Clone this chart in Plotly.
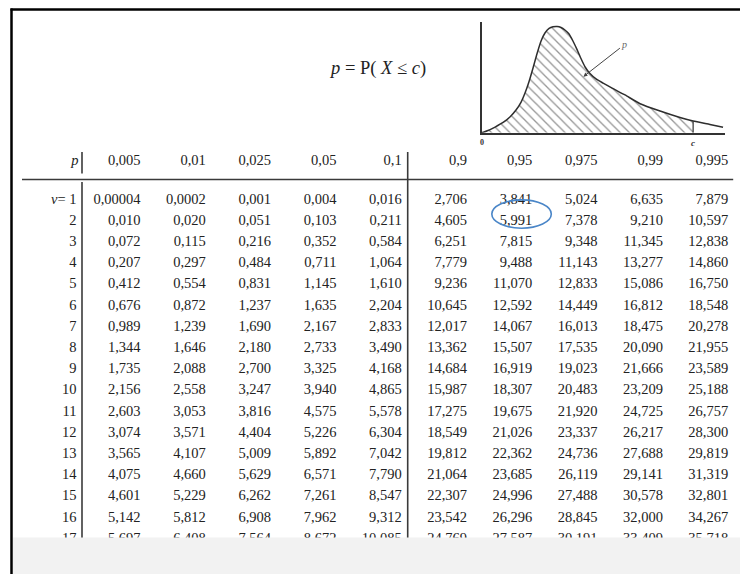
import plotly.graph_objects as go

# Chi-square quantiles c such that p = P(X <= c), for v = 1..17 degrees of freedom
p_levels = ["0,005", "0,01", "0,025", "0,05", "0,1", "0,9", "0,95", "0,975", "0,99", "0,995"]
dof = list(range(1, 18))

q_0005 = [0.00004, 0.010, 0.072, 0.207, 0.412, 0.676, 0.989, 1.344, 1.735, 2.156, 2.603, 3.074, 3.565, 4.075, 4.601, 5.142, 5.697]
q_001 = [0.0002, 0.020, 0.115, 0.297, 0.554, 0.872, 1.239, 1.646, 2.088, 2.558, 3.053, 3.571, 4.107, 4.660, 5.229, 5.812, 6.408]
q_0025 = [0.001, 0.051, 0.216, 0.484, 0.831, 1.237, 1.690, 2.180, 2.700, 3.247, 3.816, 4.404, 5.009, 5.629, 6.262, 6.908, 7.564]
q_005 = [0.004, 0.103, 0.352, 0.711, 1.145, 1.635, 2.167, 2.733, 3.325, 3.940, 4.575, 5.226, 5.892, 6.571, 7.261, 7.962, 8.672]
q_01 = [0.016, 0.211, 0.584, 1.064, 1.610, 2.204, 2.833, 3.490, 4.168, 4.865, 5.578, 6.304, 7.042, 7.790, 8.547, 9.312, 10.085]
q_09 = [2.706, 4.605, 6.251, 7.779, 9.236, 10.645, 12.017, 13.362, 14.684, 15.987, 17.275, 18.549, 19.812, 21.064, 22.307, 23.542, 24.769]
q_095 = [3.841, 5.991, 7.815, 9.488, 11.070, 12.592, 14.067, 15.507, 16.919, 18.307, 19.675, 21.026, 22.362, 23.685, 24.996, 26.296, 27.587]
q_0975 = [5.024, 7.378, 9.348, 11.143, 12.833, 14.449, 16.013, 17.535, 19.023, 20.483, 21.920, 23.337, 24.736, 26.119, 27.488, 28.845, 30.191]
q_099 = [6.635, 9.210, 11.345, 13.277, 15.086, 16.812, 18.475, 20.090, 21.666, 23.209, 24.725, 26.217, 27.688, 29.141, 30.578, 32.000, 33.409]
q_0995 = [7.879, 10.597, 12.838, 14.860, 16.750, 18.548, 20.278, 21.955, 23.589, 25.188, 26.757, 28.300, 29.819, 31.319, 32.801, 34.267, 35.718]

columns = [q_0005, q_001, q_0025, q_005, q_01, q_09, q_095, q_0975, q_099, q_0995]

# Sketch of the density curve (inset, arbitrary units) and the cut point c
curve_x = [0, 0.26, 0.55, 0.88, 1.16, 1.41, 1.62, 1.78, 1.94, 2.11, 2.27, 2.44, 2.60, 2.77,
           2.93, 3.10, 3.26, 3.42, 3.59, 3.75, 3.92, 4.08, 4.25, 4.45, 4.70, 4.99, 5.36,
           5.89, 6.51, 7.33, 8.15, 8.69, 9.38, 9.92]
curve_y = [0, 0.020, 0.051, 0.092, 0.141, 0.204, 0.276, 0.357, 0.457, 0.583, 0.709, 0.826,
           0.898, 0.939, 0.954, 0.957, 0.948, 0.925, 0.889, 0.826, 0.748, 0.668, 0.592,
           0.533, 0.484, 0.447, 0.402, 0.340, 0.261, 0.195, 0.137, 0.105, 0.074, 0.049]
c_index = 31

# Page geometry (pixels)
W, H = 740, 574
col_x0, col_step = 140.5, 65.3
row_y0, row_step = 200.0, 21.2
header_y = 161.7
label_x = 76.5
rule_y = 179.5
band_top = 537.5
inset_x0, inset_x1 = 481.7, 725.0
inset_top, inset_bottom = 21.7, 132.7
inset_xmax = 10.0

FONT = "Liberation Serif"
INK = "#222222"
RULE = "#3a3a3a"


def fmt(v):
    for d in range(3, 7):
        s = f"{v:.{d}f}"
        if abs(float(s) - v) < 1e-12:
            return s.replace(".", ",")
    return f"{v}".replace(".", ",")


def inset_px(x):
    return inset_x0 + x * (inset_x1 - inset_x0) / inset_xmax


col_right = [col_x0 + j * col_step for j in range(len(columns))]
row_y = [row_y0 + (n - 1) * row_step for n in dof]

fig = go.Figure()
text_font = dict(family=FONT, size=14.5, color=INK)

# table body
for j, col in enumerate(columns):
    fig.add_trace(go.Scatter(
        x=[col_right[j]] * len(col), y=row_y, text=[fmt(v) for v in col],
        mode="text", textposition="middle left", marker=dict(size=0),
        textfont=text_font, hoverinfo="skip", xaxis="x", yaxis="y"))

# row labels
row_labels = ["<i>ν</i>= 1"] + [str(n) for n in dof[1:]]
fig.add_trace(go.Scatter(
    x=[label_x] * len(dof), y=row_y, text=row_labels, mode="text",
    textposition="middle left", marker=dict(size=0), textfont=text_font,
    hoverinfo="skip"))

# header row
fig.add_trace(go.Scatter(
    x=[label_x + 2] + col_right, y=[header_y] * (len(p_levels) + 1),
    text=["<i>p</i>"] + p_levels, mode="text", textposition="middle left",
    marker=dict(size=0), textfont=text_font, hoverinfo="skip"))

# density sketch in the inset axes
fig.add_trace(go.Scatter(
    x=curve_x[:c_index + 1], y=curve_y[:c_index + 1], mode="lines",
    line=dict(width=0, shape="spline", smoothing=0.5), fill="tozeroy",
    fillcolor="white",
    fillpattern=dict(shape="\\", size=6.5, solidity=0.2, fgcolor="#2e2e2e", bgcolor="white"),
    xaxis="x2", yaxis="y2", hoverinfo="skip"))
fig.add_trace(go.Scatter(
    x=curve_x, y=curve_y, mode="lines",
    line=dict(color="#2e2e2e", width=1.5, shape="spline", smoothing=0.5),
    xaxis="x2", yaxis="y2", hoverinfo="skip"))
fig.add_trace(go.Scatter(
    x=[curve_x[c_index]] * 2, y=[0, curve_y[c_index]], mode="lines",
    line=dict(color="#333333", width=1.2), xaxis="x2", yaxis="y2", hoverinfo="skip"))

div_left = label_x + 5.5
div_mid = col_right[4] + 6
shapes = [
    dict(type="line", x0=div_left, x1=div_left, y0=152, y1=173.5, line=dict(color=RULE, width=1.6)),
    dict(type="line", x0=div_left, x1=div_left, y0=182, y1=H, line=dict(color=RULE, width=1.6)),
    dict(type="line", x0=div_mid, x1=div_mid, y0=152, y1=H, line=dict(color=RULE, width=1.6)),
    dict(type="line", x0=22, x1=col_right[-1] + 5, y0=rule_y, y1=rule_y, line=dict(color=RULE, width=1.6)),
    # highlight around the v = 2, p = 0,95 entry
    dict(type="circle", x0=col_right[6] - 40.5, x1=col_right[6] + 19, y0=row_y[1] - 21.3, y1=row_y[1] + 7,
         line=dict(color="#4a86c8", width=1.6)),
    # light strip at the bottom of the page
    dict(type="rect", x0=13, x1=W, y0=band_top, y1=H, fillcolor="#f2f2f2", line=dict(width=0), layer="above"),
    # page frame
    dict(type="line", x0=11.5, x1=11.5, y0=8.5, y1=H, line=dict(color="black", width=2.5), layer="above"),
    dict(type="line", x0=10.5, x1=W, y0=9.5, y1=9.5, line=dict(color="black", width=2.5), layer="above"),
]
for s in shapes:
    s.setdefault("xref", "x")
    s.setdefault("yref", "y")

annotations = [
    dict(x=377, y=68, xref="x", yref="y", showarrow=False,
         text="<i>p</i> = P( <i>X</i> ≤ <i>c</i>)", font=dict(family=FONT, size=18.5, color="#222")),
    dict(x=4.18, y=0.505, xref="x2", yref="y2", ax=41, ay=-32, text="<i>p</i>",
         font=dict(family=FONT, size=10, color="#666"), showarrow=True,
         arrowhead=2, arrowsize=0.8, arrowwidth=1, arrowcolor="#444"),
    dict(x=inset_px(0), y=inset_bottom + 10, xref="x", yref="y", showarrow=False, text="<b>0</b>",
         font=dict(family=FONT, size=8, color="#333")),
    dict(x=inset_px(curve_x[c_index]), y=inset_bottom + 10.5, xref="x", yref="y", showarrow=False,
         text="<b><i>c</i></b>", font=dict(family=FONT, size=9, color="#333")),
]

fig.update_layout(
    width=W, height=H, margin=dict(l=0, r=0, t=0, b=0),
    paper_bgcolor="white", plot_bgcolor="white", showlegend=False,
    xaxis=dict(range=[0, W], visible=False, domain=[0, 1]),
    yaxis=dict(range=[H, 0], visible=False, domain=[0, 1]),
    xaxis2=dict(domain=[inset_x0 / W, inset_x1 / W], range=[0, inset_xmax], anchor="y2",
                showline=True, linecolor="#333", linewidth=1.5, showgrid=False,
                zeroline=False, showticklabels=False, ticks=""),
    yaxis2=dict(domain=[1 - inset_bottom / H, 1 - inset_top / H], range=[0, 1], anchor="x2",
                showline=True, linecolor="#333", linewidth=1.5, showgrid=False,
                zeroline=False, showticklabels=False, ticks=""),
    shapes=shapes, annotations=annotations,
)

fig.write_html("out.html", config={"displayModeBar": False})
